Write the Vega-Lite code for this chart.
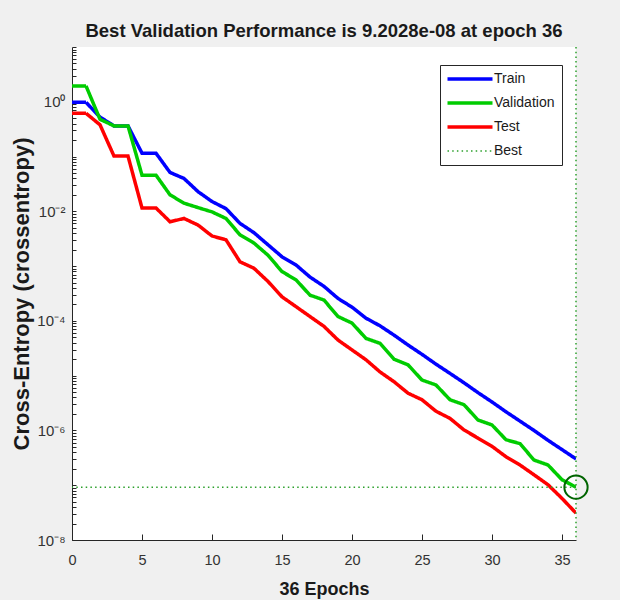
{
  "$schema": "https://vega.github.io/schema/vega-lite/v6.json",
  "width": 504,
  "height": 493,
  "autosize": {"type": "none"},
  "padding": {"left": 72, "top": 47, "right": 44, "bottom": 60},
  "background": "#f0f0f0",
  "title": {"text": "Best Validation Performance is 9.2028e-08 at epoch 36", "font": "Liberation Sans", "fontSize": 18.5, "fontWeight": "bold", "color": "#1a1a1a", "offset": 0, "anchor": "middle"},
  "config": {"view": {"fill": "white", "stroke": null}, "font": "Liberation Sans"},
  "datasets": {
    "curves": [
      {"epoch": 0, "ce": 0.977, "series": "Train"},
      {"epoch": 1, "ce": 0.977, "series": "Train"},
      {"epoch": 2, "ce": 0.525, "series": "Train"},
      {"epoch": 3, "ce": 0.363, "series": "Train"},
      {"epoch": 4, "ce": 0.363, "series": "Train"},
      {"epoch": 5, "ce": 0.115, "series": "Train"},
      {"epoch": 6, "ce": 0.115, "series": "Train"},
      {"epoch": 7, "ce": 0.0513, "series": "Train"},
      {"epoch": 8, "ce": 0.0398, "series": "Train"},
      {"epoch": 9, "ce": 0.0229, "series": "Train"},
      {"epoch": 10, "ce": 0.0151, "series": "Train"},
      {"epoch": 11, "ce": 0.0112, "series": "Train"},
      {"epoch": 12, "ce": 0.00603, "series": "Train"},
      {"epoch": 13, "ce": 0.00407, "series": "Train"},
      {"epoch": 14, "ce": 0.00245, "series": "Train"},
      {"epoch": 15, "ce": 0.00148, "series": "Train"},
      {"epoch": 16, "ce": 0.00105, "series": "Train"},
      {"epoch": 17, "ce": 0.000631, "series": "Train"},
      {"epoch": 18, "ce": 0.000427, "series": "Train"},
      {"epoch": 19, "ce": 0.000257, "series": "Train"},
      {"epoch": 20, "ce": 0.000178, "series": "Train"},
      {"epoch": 21, "ce": 0.000112, "series": "Train"},
      {"epoch": 22, "ce": 8.13e-5, "series": "Train"},
      {"epoch": 23, "ce": 5.5e-5, "series": "Train"},
      {"epoch": 24, "ce": 3.63e-5, "series": "Train"},
      {"epoch": 25, "ce": 2.45e-5, "series": "Train"},
      {"epoch": 26, "ce": 1.62e-5, "series": "Train"},
      {"epoch": 27, "ce": 1.1e-5, "series": "Train"},
      {"epoch": 28, "ce": 7.41e-6, "series": "Train"},
      {"epoch": 29, "ce": 4.9e-6, "series": "Train"},
      {"epoch": 30, "ce": 3.31e-6, "series": "Train"},
      {"epoch": 31, "ce": 2.19e-6, "series": "Train"},
      {"epoch": 32, "ce": 1.48e-6, "series": "Train"},
      {"epoch": 33, "ce": 1.0e-6, "series": "Train"},
      {"epoch": 34, "ce": 6.61e-7, "series": "Train"},
      {"epoch": 35, "ce": 4.47e-7, "series": "Train"},
      {"epoch": 36, "ce": 3.02e-7, "series": "Train"},
      {"epoch": 0, "ce": 1.95, "series": "Validation"},
      {"epoch": 1, "ce": 1.95, "series": "Validation"},
      {"epoch": 2, "ce": 0.479, "series": "Validation"},
      {"epoch": 3, "ce": 0.363, "series": "Validation"},
      {"epoch": 4, "ce": 0.363, "series": "Validation"},
      {"epoch": 5, "ce": 0.0457, "series": "Validation"},
      {"epoch": 6, "ce": 0.0457, "series": "Validation"},
      {"epoch": 7, "ce": 0.02, "series": "Validation"},
      {"epoch": 8, "ce": 0.0141, "series": "Validation"},
      {"epoch": 9, "ce": 0.0117, "series": "Validation"},
      {"epoch": 10, "ce": 0.00977, "series": "Validation"},
      {"epoch": 11, "ce": 0.00741, "series": "Validation"},
      {"epoch": 12, "ce": 0.00372, "series": "Validation"},
      {"epoch": 13, "ce": 0.00263, "series": "Validation"},
      {"epoch": 14, "ce": 0.00158, "series": "Validation"},
      {"epoch": 15, "ce": 0.000794, "series": "Validation"},
      {"epoch": 16, "ce": 0.000562, "series": "Validation"},
      {"epoch": 17, "ce": 0.000295, "series": "Validation"},
      {"epoch": 18, "ce": 0.00024, "series": "Validation"},
      {"epoch": 19, "ce": 0.00012, "series": "Validation"},
      {"epoch": 20, "ce": 9.12e-5, "series": "Validation"},
      {"epoch": 21, "ce": 4.79e-5, "series": "Validation"},
      {"epoch": 22, "ce": 3.89e-5, "series": "Validation"},
      {"epoch": 23, "ce": 2.0e-5, "series": "Validation"},
      {"epoch": 24, "ce": 1.58e-5, "series": "Validation"},
      {"epoch": 25, "ce": 8.32e-6, "series": "Validation"},
      {"epoch": 26, "ce": 6.76e-6, "series": "Validation"},
      {"epoch": 27, "ce": 3.63e-6, "series": "Validation"},
      {"epoch": 28, "ce": 2.95e-6, "series": "Validation"},
      {"epoch": 29, "ce": 1.55e-6, "series": "Validation"},
      {"epoch": 30, "ce": 1.26e-6, "series": "Validation"},
      {"epoch": 31, "ce": 6.76e-7, "series": "Validation"},
      {"epoch": 32, "ce": 5.75e-7, "series": "Validation"},
      {"epoch": 33, "ce": 2.88e-7, "series": "Validation"},
      {"epoch": 34, "ce": 2.34e-7, "series": "Validation"},
      {"epoch": 35, "ce": 1.26e-7, "series": "Validation"},
      {"epoch": 36, "ce": 9.2028e-8, "series": "Validation"},
      {"epoch": 0, "ce": 0.617, "series": "Test"},
      {"epoch": 1, "ce": 0.617, "series": "Test"},
      {"epoch": 2, "ce": 0.38, "series": "Test"},
      {"epoch": 3, "ce": 0.102, "series": "Test"},
      {"epoch": 4, "ce": 0.102, "series": "Test"},
      {"epoch": 5, "ce": 0.0115, "series": "Test"},
      {"epoch": 6, "ce": 0.0115, "series": "Test"},
      {"epoch": 7, "ce": 0.00646, "series": "Test"},
      {"epoch": 8, "ce": 0.00741, "series": "Test"},
      {"epoch": 9, "ce": 0.00562, "series": "Test"},
      {"epoch": 10, "ce": 0.00355, "series": "Test"},
      {"epoch": 11, "ce": 0.00302, "series": "Test"},
      {"epoch": 12, "ce": 0.0012, "series": "Test"},
      {"epoch": 13, "ce": 0.000912, "series": "Test"},
      {"epoch": 14, "ce": 0.000525, "series": "Test"},
      {"epoch": 15, "ce": 0.000275, "series": "Test"},
      {"epoch": 16, "ce": 0.000182, "series": "Test"},
      {"epoch": 17, "ce": 0.00012, "series": "Test"},
      {"epoch": 18, "ce": 7.94e-5, "series": "Test"},
      {"epoch": 19, "ce": 4.47e-5, "series": "Test"},
      {"epoch": 20, "ce": 2.95e-5, "series": "Test"},
      {"epoch": 21, "ce": 1.95e-5, "series": "Test"},
      {"epoch": 22, "ce": 1.17e-5, "series": "Test"},
      {"epoch": 23, "ce": 7.76e-6, "series": "Test"},
      {"epoch": 24, "ce": 4.79e-6, "series": "Test"},
      {"epoch": 25, "ce": 3.63e-6, "series": "Test"},
      {"epoch": 26, "ce": 2.24e-6, "series": "Test"},
      {"epoch": 27, "ce": 1.66e-6, "series": "Test"},
      {"epoch": 28, "ce": 1.02e-6, "series": "Test"},
      {"epoch": 29, "ce": 7.24e-7, "series": "Test"},
      {"epoch": 30, "ce": 5.13e-7, "series": "Test"},
      {"epoch": 31, "ce": 3.31e-7, "series": "Test"},
      {"epoch": 32, "ce": 2.34e-7, "series": "Test"},
      {"epoch": 33, "ce": 1.55e-7, "series": "Test"},
      {"epoch": 34, "ce": 1.02e-7, "series": "Test"},
      {"epoch": 35, "ce": 5.75e-8, "series": "Test"},
      {"epoch": 36, "ce": 3.09e-8, "series": "Test"}
    ],
    "best": [
      {"epoch": 36, "ce": 9.2028e-8, "series": "Best"}
    ]
  },
  "layer": [
    {
      "data": {"name": "curves"},
      "mark": {"type": "line", "strokeWidth": 3.5, "clip": true},
      "encoding": {
        "x": {"field": "epoch", "type": "quantitative",
          "scale": {"domain": [0, 36], "nice": false, "zero": false},
          "axis": {"values": [0, 5, 10, 15, 20, 25, 30, 35], "title": "36 Epochs", "grid": false, "labelFlush": false,
            "tickSize": -6, "tickColor": "#262626", "domainColor": "#262626",
            "labelFont": "Liberation Sans", "labelFontSize": 14.5, "labelColor": "#333333", "labelPadding": 19,
            "titleFont": "Liberation Sans", "titleFontSize": 18, "titleFontWeight": "bold", "titleColor": "#1a1a1a", "titlePadding": 14}},
        "y": {"field": "ce", "type": "quantitative",
          "scale": {"type": "log", "domain": [1e-8, 10], "nice": false},
          "axis": {
            "values": [1e-8, 2e-8, 3e-8, 4e-8, 5e-8, 6e-8, 7e-8, 8e-8, 9e-8, 1e-7, 2e-7, 3e-7, 4e-7, 5e-7, 6e-7, 7e-7, 8e-7, 9e-7, 1e-6, 2e-6, 3e-6, 4e-6, 5e-6, 6e-6, 7e-6, 8e-6, 9e-6, 1e-5, 2e-5, 3e-5, 4e-5, 5e-5, 6e-5, 7e-5, 8e-5, 9e-5, 0.0001, 0.0002, 0.0003, 0.0004, 0.0005, 0.0006, 0.0007, 0.0008, 0.0009, 0.001, 0.002, 0.003, 0.004, 0.005, 0.006, 0.007, 0.008, 0.009, 0.01, 0.02, 0.03, 0.04, 0.05, 0.06, 0.07, 0.08, 0.09, 0.1, 0.2, 0.3, 0.4, 0.5, 0.6, 0.7, 0.8, 0.9, 1, 2, 3, 4, 5, 6, 7, 8, 9, 10],
            "labelExpr": "abs(datum.value - 1) < 1e-9 ? '10⁰' : abs(datum.value/0.01 - 1) < 1e-6 ? '10⁻²' : abs(datum.value/0.0001 - 1) < 1e-6 ? '10⁻⁴' : abs(datum.value/1e-6 - 1) < 1e-6 ? '10⁻⁶' : abs(datum.value/1e-8 - 1) < 1e-6 ? '10⁻⁸' : ''",
            "title": "Cross-Entropy  (crossentropy)", "grid": false, "labelFlush": false,
            "tickSize": -4, "tickColor": "#262626", "domainColor": "#262626",
            "labelFont": "Liberation Sans", "labelFontSize": 15, "labelColor": "#333333", "labelPadding": 11, "labelOverlap": false,
            "titleFont": "Liberation Sans", "titleFontSize": 22, "titleFontWeight": "bold", "titleColor": "#1a1a1a", "titlePadding": 3}},
        "color": {
          "field": "series", "type": "nominal",
          "scale": {"domain": ["Train", "Validation", "Test", "Best"], "range": ["#0000ff", "#00cc00", "#ff0000", "#2ca02c"]},
          "legend": {
            "title": null, "orient": "none", "legendX": 368, "legendY": 18,
            "fillColor": "white", "strokeColor": "#262626", "padding": 7,
            "symbolType": "stroke", "symbolSize": 2025, "symbolStrokeWidth": 3.5,
            "symbolOffset": 16,
            "labelFont": "Liberation Sans", "labelFontSize": 14, "labelColor": "#1a1a1a",
            "rowPadding": 10, "labelOffset": 17,
            "encode": {"symbols": {"update": {"strokeWidth": {"signal": "datum.value === 'Best' ? 1.5 : 3.5"}}}}
          }
        },
        "strokeDash": {
          "field": "series", "type": "nominal",
          "scale": {"domain": ["Train", "Validation", "Test", "Best"], "range": [[1, 0], [1, 0], [1, 0], [1.5, 3.2]]}
        }
      }
    },
    {
      "data": {"name": "best"},
      "mark": {"type": "rule", "strokeWidth": 1.5},
      "encoding": {"x": {"field": "epoch", "type": "quantitative"}, "color": {"field": "series", "type": "nominal"}, "strokeDash": {"field": "series", "type": "nominal"}}
    },
    {
      "data": {"name": "best"},
      "mark": {"type": "rule", "strokeWidth": 1.5},
      "encoding": {"y": {"field": "ce", "type": "quantitative"}, "color": {"field": "series", "type": "nominal"}, "strokeDash": {"field": "series", "type": "nominal"}}
    },
    {
      "data": {"name": "best"},
      "mark": {"type": "point", "shape": "circle", "size": 540, "filled": false, "color": "#006400", "strokeWidth": 2, "opacity": 1},
      "encoding": {"x": {"field": "epoch", "type": "quantitative"}, "y": {"field": "ce", "type": "quantitative"}}
    }
  ]
}
